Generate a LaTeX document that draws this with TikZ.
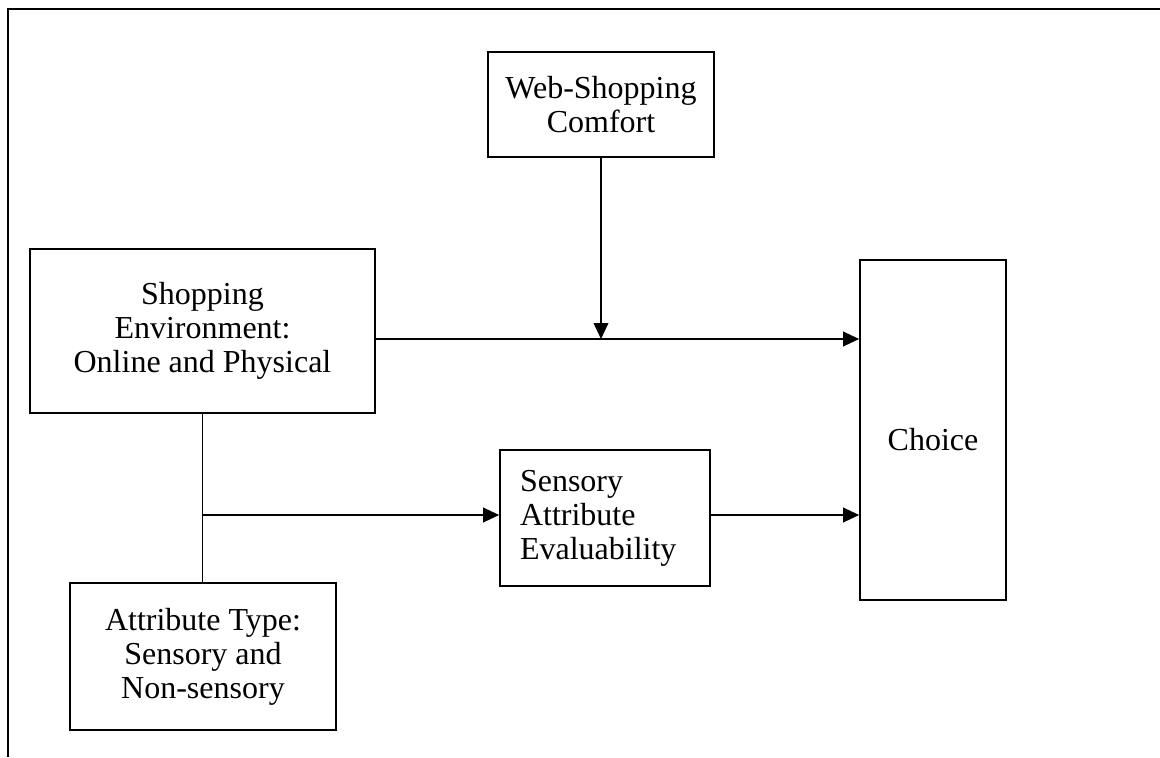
\documentclass[tikz,border=0pt]{standalone}
\usepackage{fontspec}
\setmainfont{Liberation Serif}
\usetikzlibrary{arrows.meta, positioning}
\usetikzlibrary{calc}

\begin{document}
\begin{tikzpicture}[
      x=0.75pt,
      y=-0.75pt,
      box/.style={
          rectangle,
          draw,
          line width=1.3pt,
          align=center,
          font=\fontsize{24pt}{25.5pt}\selectfont
        },
      frame/.style={
          line width=2.2pt
        },
      link/.style={
          line width=1.3pt
        },
      arrow/.style={
          -{Triangle[length=12pt,width=11pt]},
          line width=1.3pt
        }
    ]

    \useasboundingbox (0,0) rectangle (1160,757);

    % Frame
    \draw[frame] (8,757) -- (8,9) -- (1160,9);

    % Nodes
    \node[box, minimum width=169.5pt, minimum height=78.75pt] (web) at (601,104.5) {Web-Shopping\\Comfort};
    \node[box, minimum width=258.75pt, minimum height=123pt] (env) at (202.5,331) {Shopping\\Environment:\\Online and Physical};
    \node[box, minimum width=109.5pt, minimum height=255pt, text height=31.5pt] (choice) at (933,430) {Choice};
    \node[box, minimum width=157.5pt, minimum height=102pt, align=left, text width=127.5pt, inner xsep=15pt] (sens) at (605,518) {Sensory\\Attribute\\Evaluability};
    \node[box, minimum width=199.5pt, minimum height=110.25pt] (attr) at (203,656.5) {Attribute Type:\\Sensory and\\Non-sensory};

    \coordinate (join) at (web.south |- 0,339);
    \coordinate (split) at (env.south |- 0,515);

    % Arrows
    \draw[arrow] (env.east |- join) -- (join -| choice.west);
    \draw[arrow] (web.south) -- (join);
    \draw[link] (env.south) -- (env.south |- attr.north);
    \draw[arrow] (split) -- (split -| sens.west);
    \draw[arrow] (sens.east |- split) -- (split -| choice.west);

  \end{tikzpicture}
\end{document}
